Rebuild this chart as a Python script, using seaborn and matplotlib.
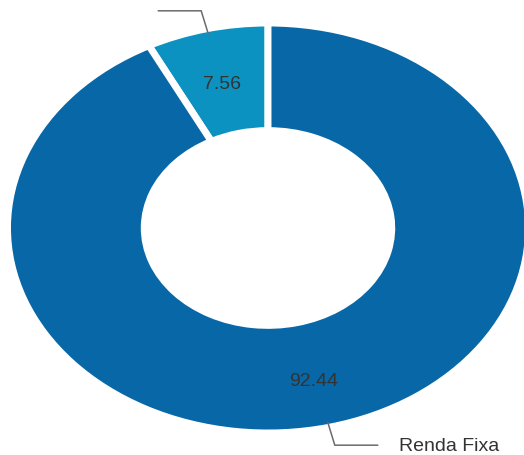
import numpy as np
import matplotlib
matplotlib.use("Agg")
import matplotlib.pyplot as plt
import seaborn as sns

# Data
categories = ["", "Renda Fixa"]
values = [7.56, 92.44]
value_labels = ["7.56", "92.44"]
colors = ["#0C92C1", "#0867A6"]

sns.set_style("white")
plt.rcParams["font.family"] = ["Liberation Sans", "DejaVu Sans"]

W, H = 524, 456
fig = plt.figure(figsize=(W / 100, H / 100), dpi=100)
ax = fig.add_axes([0, 0, 1, 1])

# Elliptical donut: pixel center and radii
cx, cy = 268.0, 229.0
rx, ry = 260.5, 205.0

wedges, _ = ax.pie(values, colors=colors, startangle=90, counterclock=True,
                   radius=1.0, wedgeprops=dict(width=0.525, edgecolor="white", linewidth=5))
ax.set_xlim((0 - cx) / rx, (W - cx) / rx)
ax.set_ylim((cy - H) / ry, (cy - 0) / ry)
ax.set_aspect("auto")
ax.axis("off")

line_color = "#6b6b6b"
for w, lab, vl in zip(wedges, categories, value_labels):
    mid = np.deg2rad((w.theta1 + w.theta2) / 2.0)
    c, s = np.cos(mid), np.sin(mid)
    # value label inside ring
    ax.text(0.745 * c, 0.745 * s - 0.02, vl, ha="center", va="center",
            fontsize=14, color="#333333")
    # leader line
    x0, y0 = 0.975 * c, 0.975 * s
    x1, y1 = 1.09 * c, 1.09 * s
    sign = 1 if c >= 0 else -1
    x2 = x1 + sign * 0.165
    ax.plot([x0, x1, x2], [y0, y1, y1], color=line_color, lw=1.1,
            solid_joinstyle="miter", clip_on=False)
    if lab:
        ax.text(x2 + sign * 0.08, y1, lab, ha="left" if sign > 0 else "right",
                va="center", fontsize=14, color="#333333")

fig.savefig("out.png", dpi=100)
